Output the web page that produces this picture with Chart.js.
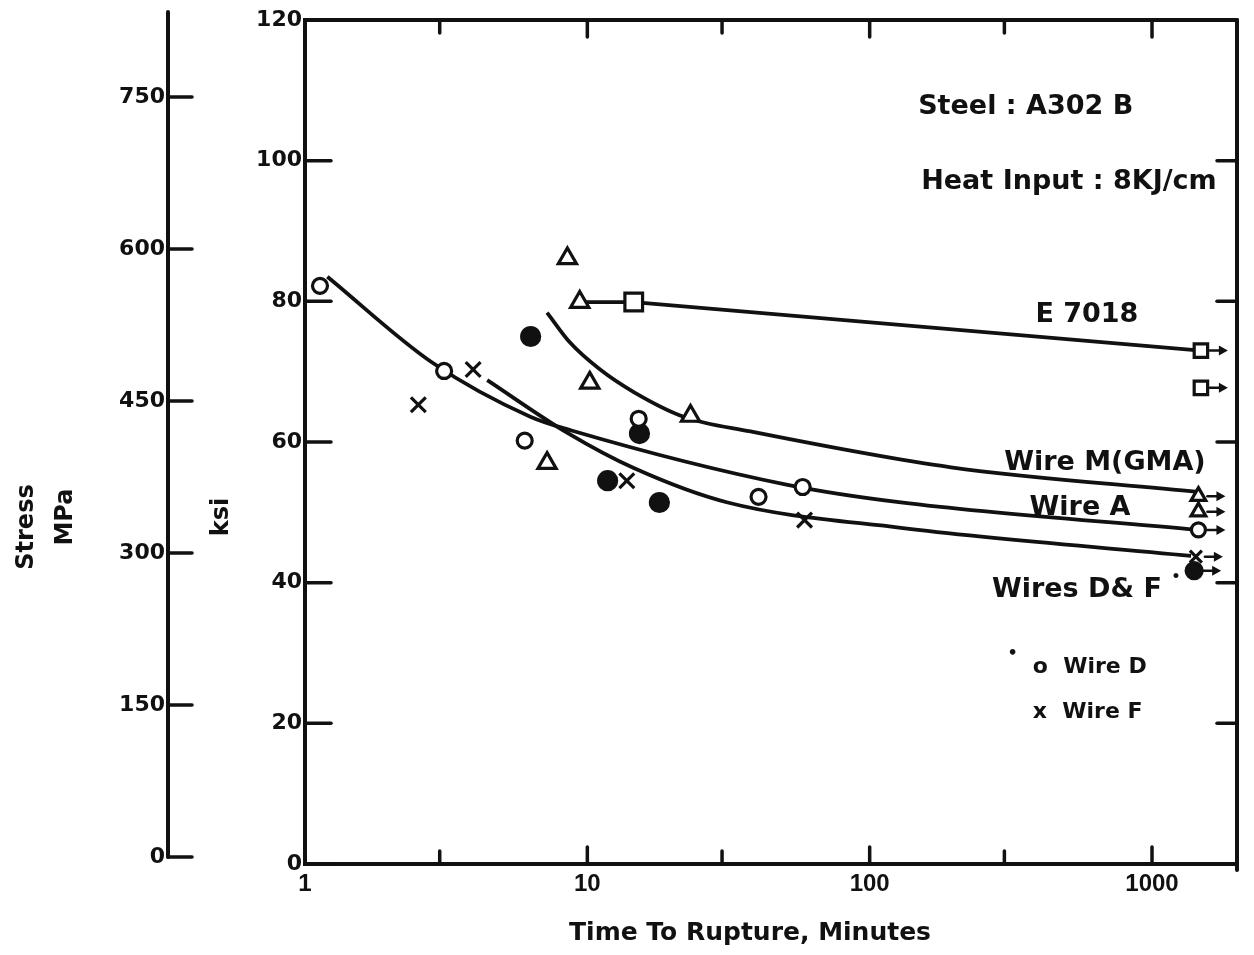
<!DOCTYPE html>
<html>
<head>
<meta charset="utf-8">
<script src="https://cdn.jsdelivr.net/npm/chart.js@4"></script>
<style>
  html, body { margin: 0; padding: 0; background: #fff; }
  canvas { display: block; }
</style>
</head>
<body>
<canvas id="rupture" width="1254" height="955"></canvas>
<script>
// Time to rupture (minutes) vs stress (ksi) -- A302 B, 8 KJ/cm
const xTicks = [1, 3, 10, 30, 100, 300, 1000];
const xLabels = [1, 10, 100, 1000];
const mpaTicks = [0, 150, 300, 450, 600, 750];

// fitted curves
const e7018Time = [9.4, 14.6, 1490];
const e7018Ksi = [79.9, 79.9, 73.0];
const wireMTime = [7.2, 8.7, 11.1, 14.6, 21.9, 37.8, 194, 1450];
const wireMKsi = [78.4, 74.1, 70.3, 67.1, 63.6, 61.5, 56.4, 52.9];
const wireATime = [1.2, 2.82, 6.28, 8.85, 51.2, 129, 1450];
const wireAKsi = [83.5, 71.3, 63.6, 61.6, 53.9, 51.4, 47.5];
const wireDFTime = [4.42, 8.5, 14.6, 31.4, 129, 1375];
const wireDFKsi = [68.8, 61.3, 56.3, 51.4, 47.8, 43.8];

// test points
const triTime = [8.5, 9.4, 10.2, 7.2, 23.2];
const triKsi = [86.1, 79.9, 68.4, 57.0, 63.7];
const triRunTime = [1460, 1460];
const triRunKsi = [52.3, 50.1];
const sqTime = [14.6];
const sqKsi = [79.9];
const sqRunTime = [1490, 1490];
const sqRunKsi = [73.0, 67.7];
const openTime = [1.13, 3.11, 6.0, 15.2, 40.4, 57.9];
const openKsi = [82.2, 70.1, 60.2, 63.3, 52.2, 53.6];
const openRunTime = [1460];
const openRunKsi = [47.5];
const solidTime = [6.3, 15.3, 11.8, 18.0];
const solidKsi = [75.0, 61.2, 54.5, 51.4];
const solidRunTime = [1410];
const solidRunKsi = [41.7];
const crossTime = [2.52, 3.94, 13.8, 58.8];
const crossKsi = [65.3, 70.3, 54.5, 48.9];
const crossRunTime = [1430];
const crossRunKsi = [43.7];

const ink = '#111';
const FONT = '"DejaVu Sans", sans-serif';

const pts = (ts, ks) => ts.map((t, i) => ({ x: t, y: ks[i] }));

function curve(ts, ks, straight) {
  const ds = {
    data: pts(ts, ks), showLine: true, pointRadius: 0,
    borderColor: ink, borderWidth: 3.8, order: 1
  };
  if (straight) ds.tension = 0;
  else ds.cubicInterpolationMode = 'monotone';
  return ds;
}
function marks(ts, ks, style, fill, r, runout) {
  return {
    data: pts(ts, ks), showLine: false, pointStyle: style,
    pointRadius: r, pointBorderWidth: 3.2, pointBorderColor: ink, pointBackgroundColor: fill,
    order: 0, runout: runout
  };
}

const notes = [
  { text: 'Steel : A302 B', t: 357, ksi: 107.7, size: 27, align: 'center' },
  { text: 'Heat Input : 8KJ/cm', t: 508, ksi: 96.9, size: 27, align: 'center' },
  { text: 'E 7018', t: 588, ksi: 78.1, size: 27, align: 'center' },
  { text: 'Wire M(GMA)', t: 681, ksi: 57.0, size: 27, align: 'center' },
  { text: 'Wire A', t: 556, ksi: 50.6, size: 27, align: 'center' },
  { text: 'Wires D& F', t: 542, ksi: 39.0, size: 27, align: 'center' },
  { text: '•', t: 1217, ksi: 40.8, size: 14, align: 'center' },
  { text: '•', t: 321, ksi: 29.9, size: 16, align: 'center' },
  { text: 'o  Wire D', t: 378, ksi: 27.9, size: 22, align: 'left' },
  { text: 'x  Wire F', t: 378, ksi: 21.6, size: 22, align: 'left' }
];

function seg(ctx, x1, y1, x2, y2) {
  ctx.beginPath(); ctx.moveTo(x1, y1); ctx.lineTo(x2, y2); ctx.stroke();
}

const decor = {
  id: 'decor',
  afterDraw(chart) {
    const { ctx, chartArea: a, scales } = chart;
    const x = scales.x, y = scales.y, mpa = scales.mpa;
    ctx.save();
    ctx.strokeStyle = ink; ctx.fillStyle = ink; ctx.lineCap = 'round';
    ctx.lineWidth = 4;
    // frame top / right
    seg(ctx, a.left, a.top, a.right, a.top);
    seg(ctx, a.right, a.top, a.right, a.bottom + 6);
    // ksi ticks (inward) and right-side ticks
    ctx.lineWidth = 3.5;
    y.ticks.forEach(t => {
      const py = y.getPixelForValue(t.value);
      seg(ctx, a.left, py, a.left + 26, py);
      if (t.value > 0 && t.value < 120) seg(ctx, a.right - 20, py, a.right, py);
    });
    // time ticks, bottom and top
    x.ticks.forEach(t => {
      if (t.value <= 1) return;
      const px = x.getPixelForValue(t.value);
      const len = xLabels.includes(t.value) ? 17 : 13;
      seg(ctx, px, a.bottom, px, a.bottom - len);
      seg(ctx, px, a.top, px, a.top + len);
    });
    // MPa axis
    const mx = mpa.right;
    ctx.lineWidth = 4;
    seg(ctx, mx, mpa.getPixelForValue(0), mx, a.top - 8);
    ctx.lineWidth = 3.5;
    mpaTicks.forEach(v => {
      const py = mpa.getPixelForValue(v);
      seg(ctx, mx, py, mx + 24, py);
    });
    // run-out arrows
    ctx.lineWidth = 2.5;
    chart.data.datasets.forEach((ds, i) => {
      if (!ds.runout) return;
      chart.getDatasetMeta(i).data.forEach(p => {
        seg(ctx, p.x + 9, p.y, p.x + 20, p.y);
        ctx.beginPath();
        ctx.moveTo(p.x + 27, p.y); ctx.lineTo(p.x + 18, p.y - 5); ctx.lineTo(p.x + 18, p.y + 5);
        ctx.closePath(); ctx.fill();
      });
    });
    // annotations
    ctx.textBaseline = 'middle';
    notes.forEach(n => {
      ctx.font = 'bold ' + n.size + 'px ' + FONT;
      ctx.textAlign = n.align;
      ctx.fillText(n.text, x.getPixelForValue(n.t), y.getPixelForValue(n.ksi));
    });
    // axis titles
    ctx.font = 'bold 25px ' + FONT;
    ctx.textAlign = 'center';
    ctx.fillText('Time To Rupture, Minutes', 750, 933);
    ctx.font = 'bold 24px ' + FONT;
    [['Stress', 27, 527], ['MPa', 66, 517], ['ksi', 222, 517]].forEach(([s, tx, ty]) => {
      ctx.save();
      ctx.translate(tx, ty); ctx.rotate(-Math.PI / 2);
      ctx.fillText(s, 0, 0);
      ctx.restore();
    });
    ctx.restore();
  }
};

new Chart(document.getElementById('rupture'), {
  type: 'scatter',
  data: {
    datasets: [
      curve(e7018Time, e7018Ksi, true),
      curve(wireMTime, wireMKsi),
      curve(wireATime, wireAKsi),
      curve(wireDFTime, wireDFKsi),
      marks(triTime, triKsi, 'triangle', '#fff', 10.5, false),
      marks(triRunTime, triRunKsi, 'triangle', '#fff', 8.5, true),
      marks(sqTime, sqKsi, 'rect', '#fff', 12.5, false),
      marks(sqRunTime, sqRunKsi, 'rect', '#fff', 9.5, true),
      marks(openTime, openKsi, 'circle', '#fff', 7.5, false),
      marks(openRunTime, openRunKsi, 'circle', '#fff', 7, true),
      marks(solidTime, solidKsi, 'circle', ink, 9, false),
      marks(solidRunTime, solidRunKsi, 'circle', ink, 8, true),
      marks(crossTime, crossKsi, 'crossRot', '#fff', 10.5, false),
      marks(crossRunTime, crossRunKsi, 'crossRot', '#fff', 8.5, true)
    ]
  },
  options: {
    responsive: false,
    animation: false,
    layout: { padding: { top: 20, right: 17, bottom: 0, left: 0 } },
    plugins: { legend: { display: false }, tooltip: { enabled: false } },
    scales: {
      x: {
        type: 'logarithmic', min: 1, max: 2000,
        afterBuildTicks: s => { s.ticks = xTicks.map(v => ({ value: v })); },
        afterFit: s => { s.height = 91; },
        ticks: {
          callback: v => xLabels.includes(v) ? String(v) : '',
          autoSkip: false, maxRotation: 0, padding: 6, color: ink,
          font: { family: '"Liberation Sans", Arial, sans-serif', size: 24, weight: 'bold' }
        },
        grid: { display: false, drawTicks: false },
        border: { display: true, color: ink, width: 4 }
      },
      y: {
        position: 'left', min: 0, max: 120, weight: 0,
        afterFit: s => { s.width = 137; },
        ticks: { stepSize: 20, padding: 3, color: ink, font: { family: FONT, size: 22, weight: 'bold' } },
        grid: { display: false, drawTicks: false },
        border: { display: true, color: ink, width: 4 }
      },
      mpa: {
        position: 'left', min: -6.9, max: 826, weight: 1,
        afterBuildTicks: s => { s.ticks = mpaTicks.map(v => ({ value: v })); },
        afterFit: s => { s.width = 168; },
        ticks: { padding: 3, color: ink, font: { family: FONT, size: 22, weight: 'bold' } },
        grid: { display: false, drawTicks: false },
        border: { display: false }
      }
    }
  },
  plugins: [decor]
});
</script>
</body>
</html>
